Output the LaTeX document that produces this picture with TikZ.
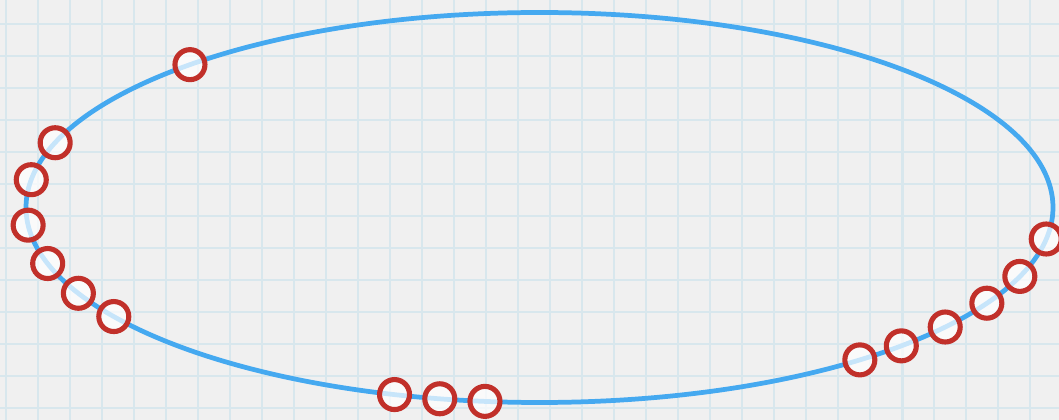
\documentclass[tikz,border=0pt]{standalone}
\usepackage{xcolor}
\usepackage{tikz}
\usetikzlibrary{calc}

\definecolor{paper}{HTML}{F0F0F0}
\definecolor{gridblue}{HTML}{D8E7ED}
\definecolor{orbitblue}{HTML}{45A9F0}
\definecolor{beadred}{HTML}{C1302A}

\begin{document}
\begin{tikzpicture}[
    minorgrid/.style={draw=gridblue, line width=0.8pt},
    majorgrid/.style={draw=gridblue, line width=1.7pt},
    orbit/.style={draw=orbitblue, line width=2.7pt},
    bead/.style={circle, draw=beadred, line width=2.9pt, fill=white, fill opacity=0.7, minimum size=0.6cm, inner sep=0pt},
]

% paper with grid
\useasboundingbox (0,0) rectangle (21.18,8.4);
\fill[paper] (0,0) rectangle (21.18,8.4);
\begin{scope}
    \clip (0,0) rectangle (21.18,8.4);
    \draw[minorgrid, shift={(0.12,0.24)}] (-1,-1) grid[step=0.64] (22,9);
    \draw[majorgrid, shift={(2.68,2.16)}] (-3.84,-3.84) grid[step=3.84] (20,8);
\end{scope}

% the orbit
\coordinate (c) at (10.79,4.25);
\draw[orbit] (c) ellipse [x radius=10.27, y radius=3.9];

% beads on the orbit
\node[bead] (top) at ($(c)+(132.9:10.27 and 3.9)$) {};

\node[bead] (l1) at ($(c)+(160.6:10.27 and 3.9)$) {};
\node[bead] (l2) at ($(c)+(171.8:10.27 and 3.9)$) {};
\node[bead] (l3) at ($(c)+(185.2:10.27 and 3.9)$) {};
\node[bead] (l4) at ($(c)+(196.7:10.27 and 3.9)$) {};
\node[bead] (l5) at ($(c)+(206.1:10.27 and 3.9)$) {};
\node[bead] (l6) at ($(c)+(214.0:10.27 and 3.9)$) {};

\node[bead] (b1) at ($(c)+(253.6:10.27 and 3.9)$) {};
\node[bead] (b2) at ($(c)+(258.8:10.27 and 3.9)$) {};
\node[bead] (b3) at ($(c)+(263.9:10.27 and 3.9)$) {};

\node[bead] (r1) at ($(c)+(308.6:10.27 and 3.9)$) {};
\node[bead] (r2) at ($(c)+(314.8:10.27 and 3.9)$) {};
\node[bead] (r3) at ($(c)+(322.2:10.27 and 3.9)$) {};
\node[bead] (r4) at ($(c)+(330.6:10.27 and 3.9)$) {};
\node[bead] (r5) at ($(c)+(339.3:10.27 and 3.9)$) {};
\node[bead] (r6) at ($(c)+(350.7:10.27 and 3.9)$) {};

\end{tikzpicture}
\end{document}
